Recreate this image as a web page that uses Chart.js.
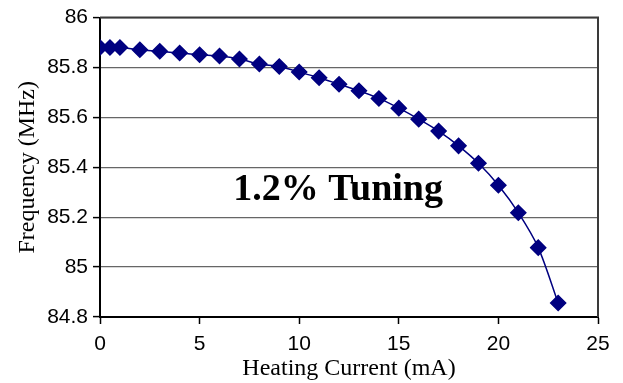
<!DOCTYPE html>
<html><head><meta charset="utf-8">
<script src="https://cdn.jsdelivr.net/npm/chart.js@4.4.0/dist/chart.umd.min.js"></script>
<style>html,body{margin:0;padding:0;background:#fff}#wrap{width:623px;height:383px}</style>
</head><body><div id="wrap"><canvas id="c" width="623" height="383"></canvas></div>
<script>
const currents = [0,0.5,1,2,3,4,5,6,7,8,9,10,11,12,13,14,15,16,17,18,19,20,21,22,23];
const frequencies = [85.880,85.880,85.880,85.871,85.865,85.858,85.851,85.846,85.834,85.814,85.804,85.782,85.759,85.733,85.707,85.676,85.637,85.593,85.545,85.486,85.416,85.328,85.218,85.078,84.856];
const xTicks = [0,5,10,15,20,25];
const yTicks = [84.8,85,85.2,85.4,85.6,85.8,86];
const annotationText = "1.2% Tuning";
const annotationPos = {x: 11.95, y: 85.309};

const frame = {
  id:'frame',
  afterDatasetsDraw(chart){
    const {ctx, chartArea:a, scales} = chart;
    ctx.save();
    ctx.strokeStyle = '#3a3a3a';
    ctx.lineWidth = 2;
    ctx.beginPath();
    ctx.moveTo(a.left, a.top); ctx.lineTo(a.right, a.top); ctx.lineTo(a.right, a.bottom);
    ctx.stroke();
    ctx.fillStyle = '#000';
    ctx.font = 'bold 38px "Liberation Serif", "Times New Roman", serif';
    ctx.textAlign = 'center'; ctx.textBaseline = 'middle';
    ctx.fillText(annotationText, scales.x.getPixelForValue(annotationPos.x), scales.y.getPixelForValue(annotationPos.y));
    ctx.restore();
  }
};

new Chart(document.getElementById('c'), {
  type:'line',
  data:{datasets:[{
    data: currents.map((x,i)=>({x, y: frequencies[i]})),
    borderColor:'#000080', backgroundColor:'#000080', borderWidth:1.5,
    pointStyle:'rectRot', pointRadius:7.5, pointHoverRadius:7.5,
    pointBorderColor:'#000080', pointBackgroundColor:'#000080', tension:0.3
  }]},
  options:{
    responsive:false, animation:false, devicePixelRatio:1,
    layout:{padding:{left:0, top:13, right:25, bottom:0}},
    plugins:{legend:{display:false}, tooltip:{enabled:false}},
    scales:{
      x:{type:'linear', min:0, max:25,
        afterBuildTicks(s){ s.ticks = xTicks.map(v=>({value:v})); },
        afterFit(s){ s.height = 66; },
        border:{color:'#000', width:2},
        grid:{drawOnChartArea:false, drawTicks:true, tickLength:7, tickColor:'#000', tickWidth:1.5},
        ticks:{color:'#000', font:{family:'"Liberation Sans", Arial, sans-serif', size:21}, padding:8, maxRotation:0},
        title:{display:true, text:'Heating Current (mA)', color:'#000', font:{family:'"Liberation Serif", "Times New Roman", serif', size:24}, padding:{top:0,bottom:0}}
      },
      y:{type:'linear', min:84.8, max:86,
        afterBuildTicks(s){ s.ticks = yTicks.map(v=>({value:v})); },
        afterFit(s){ s.width = 100; },
        border:{color:'#000', width:2},
        grid:{color:'#666', lineWidth:1.2, tickLength:7, tickColor:'#000', tickWidth:1.5},
        ticks:{color:'#000', font:{family:'"Liberation Sans", Arial, sans-serif', size:21}, padding:5,
          callback:(v)=>String(parseFloat(Number(v).toFixed(1)))},
        title:{display:true, text:'Frequency (MHz)', color:'#000', font:{family:'"Liberation Serif", "Times New Roman", serif', size:24}, padding:{top:13,bottom:0}}
      }
    }
  },
  plugins:[frame]
});
</script></body></html>
